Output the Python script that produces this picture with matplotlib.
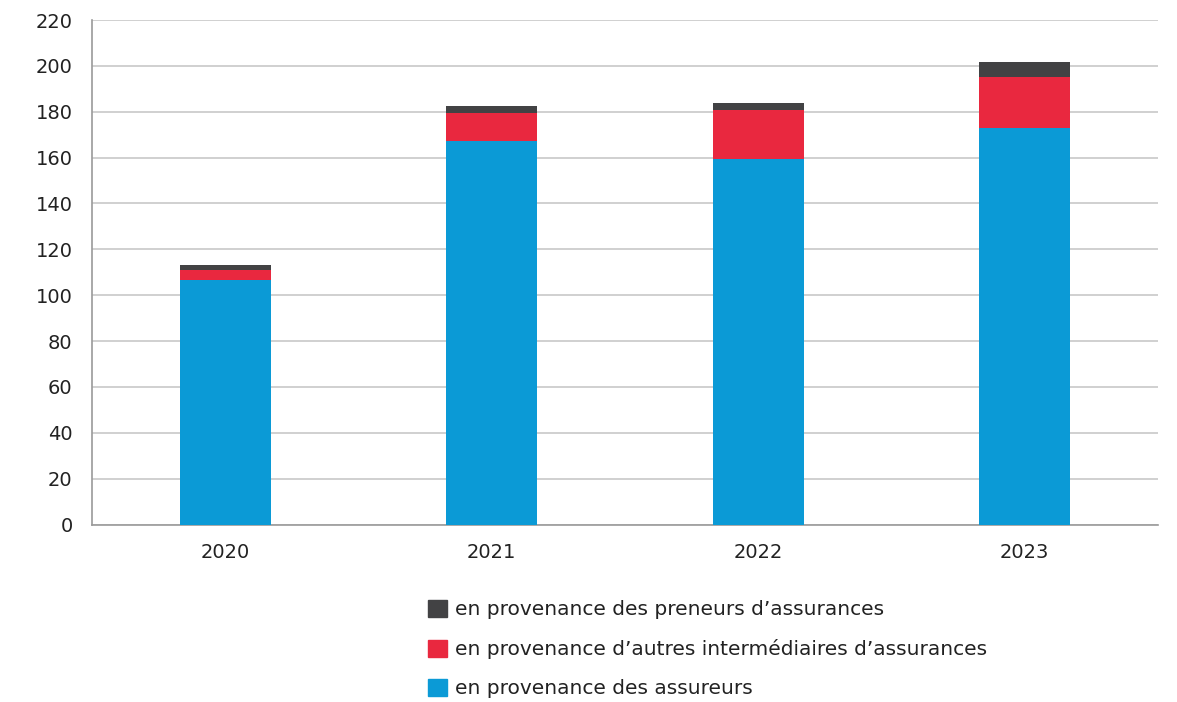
import matplotlib
matplotlib.use("Agg")
import matplotlib.pyplot as plt
from matplotlib.patches import Patch

years = ["2020", "2021", "2022", "2023"]
assureurs = [106.8, 167.3, 159.6, 173.0]
autres_intermediaires = [4.3, 12.1, 21.1, 22.1]
preneurs = [2.2, 3.0, 2.9, 6.4]

labels = ["en provenance des assureurs",
          "en provenance d\u2019autres interm\u00e9diaires d\u2019assurances",
          "en provenance des preneurs d\u2019assurances"]
colors = ["#0B9AD6", "#E9283F", "#424244"]

plt.rcParams['font.family'] = ['DejaVu Sans']

fig = plt.figure(figsize=(11.77, 7.02), dpi=100)
ax = fig.add_axes([92/1177, 1-524.5/702, (1158-92)/1177, (524.5-20)/702])

x = list(range(len(years)))
w = 0.34
ax.bar(x, assureurs, w, color=colors[0], zorder=3)
b2 = [a for a in assureurs]
ax.bar(x, autres_intermediaires, w, bottom=b2, color=colors[1], zorder=3)
b3 = [a + b for a, b in zip(assureurs, autres_intermediaires)]
ax.bar(x, preneurs, w, bottom=b3, color=colors[2], zorder=3)

ax.set_xlim(-0.5, 3.5)
ax.set_ylim(0, 220)
ax.set_yticks(range(0, 221, 20))
ax.set_xticks(x)
ax.set_xticklabels(years)
ax.yaxis.grid(True, color="#c8c8c8", linewidth=1.2, zorder=0)
ax.set_axisbelow(True)
for s in ["top", "right"]:
    ax.spines[s].set_visible(False)
for s in ["left", "bottom"]:
    ax.spines[s].set_color("#9a9a9a")
    ax.spines[s].set_linewidth(1.2)
ax.tick_params(axis="y", length=0, pad=14, labelsize=14, labelcolor="#222222")
ax.tick_params(axis="x", length=0, pad=13, labelsize=14, labelcolor="#222222")

handles = [Patch(color=colors[2]), Patch(color=colors[1]), Patch(color=colors[0])]
leg_labels = [labels[2], labels[1], labels[0]]
fig.legend(handles, leg_labels, loc="upper left", bbox_to_anchor=(420/1177, 1-592/702),
           frameon=False, fontsize=14.5, handlelength=0.92, handleheight=0.92,
           handletextpad=0.4, labelspacing=0.97, labelcolor="#222222", borderaxespad=0)

fig.savefig("out.png", dpi=100)
